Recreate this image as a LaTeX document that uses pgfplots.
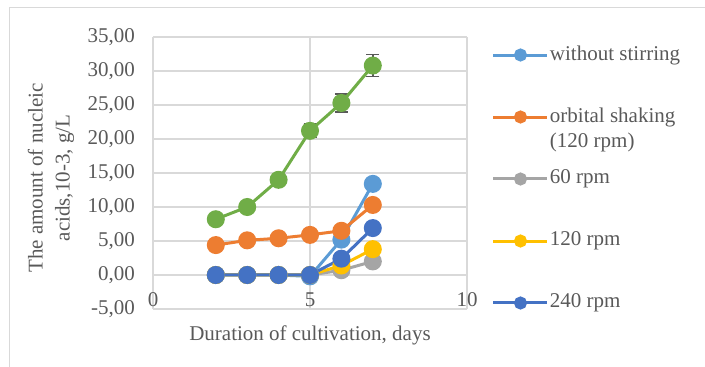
\documentclass[border=0pt]{standalone}
\usepackage{fontspec}
\setmainfont{Liberation Serif}
\usepackage{pgfplots}
\pgfplotsset{compat=1.18}
\definecolor{cLB}{HTML}{5B9BD5}
\definecolor{cOR}{HTML}{ED7D31}
\definecolor{cGR}{HTML}{A5A5A5}
\definecolor{cYE}{HTML}{FFC000}
\definecolor{cBL}{HTML}{4472C4}
\definecolor{cGN}{HTML}{70AD47}
\definecolor{cTX}{HTML}{595959}
\definecolor{cGRID}{HTML}{D9D9D9}
\definecolor{cERR}{HTML}{595959}
\pgfplotsset{
  mylegimg/.style={legend image code/.code={\draw[#1, mark=none, line width=3pt] (0pt,0pt) -- (54pt,0pt); \fill[#1] (27pt,0pt) circle (5pt);}}
}
\begin{document}
\begin{tikzpicture}
\path[use as bounding box] (0pt,0pt) rectangle (705pt,367pt);
\draw[cGRID, line width=1pt] (9pt,0pt) -- (9pt,359pt) -- (706pt,359pt);
\begin{axis}[
  at={(153pt,58pt)}, anchor=south west,
  scale only axis, width=314pt, height=272pt,
  xmin=0, xmax=10, ymin=-5, ymax=35,
  enlargelimits=false,
  axis line style={draw=none},
  major tick length=0pt,
  grid=major,
  grid style={cGRID, line width=1.2pt},
  xtick={0,5,10}, xticklabels={0,5,10},
  ytick={-5,0,5,10,15,20,25,30,35},
  yticklabels={{-5,00},{0,00},{5,00},{10,00},{15,00},{20,00},{25,00},{30,00},{35,00}},
  ticklabel style={font=\fontsize{21}{25}\selectfont, text=cTX},
  xticklabel style={anchor=base, inner sep=0pt, yshift=2pt},
  yticklabel style={anchor=east, inner sep=0pt, xshift=-18pt},
  xlabel={Duration of cultivation, days},
  xlabel style={font=\fontsize{21}{25}\selectfont, text=cTX, at={(axis description cs:0.5,0)}, anchor=base, inner sep=0pt, yshift=-32pt},
  ylabel={The amount of nucleic\\acids,10-3, g/L},
  ylabel style={font=\fontsize{21}{27}\selectfont, text=cTX, align=center, at={(axis description cs:-0.3248,0.4816)}, anchor=center},
  every axis plot/.append style={line width=3pt, mark=*, mark size=7.5pt},
  mylegimg,
  legend cell align=left,
  legend style={draw=none, fill=none, inner sep=0pt, outer sep=0pt,
    at={(axis description cs:1.0796,0.9706)}, anchor=north west,
    row sep=42pt, column sep=1pt,
    nodes={inner sep=0pt, text height=15pt, text depth=5pt, text=cTX, font=\fontsize{21}{25}\selectfont}},
]
\addplot[cLB, mark options={fill=cLB, draw=cLB}] coordinates {(2,0)(3,0)(4,0)(5,-0.2)(6,5.2)(7,13.4)};
\addlegendentry{without stirring}
\addplot[cOR, mark options={fill=cOR, draw=cOR}] coordinates {(2,4.4)(3,5.1)(4,5.4)(5,5.9)(6,6.5)(7,10.3)};
\addlegendentry{\begin{tabular}[t]{@{}l@{}}orbital shaking\\(120 rpm)\end{tabular}}
\addplot[cGR, mark options={fill=cGR, draw=cGR}] coordinates {(2,0)(3,0)(4,0)(5,0)(6,0.7)(7,2.0)};
\addlegendentry{60 rpm}
\addplot[cYE, mark options={fill=cYE, draw=cYE}] coordinates {(2,0)(3,0)(4,0)(5,0)(6,1.4)(7,3.8)};
\addlegendentry{120 rpm}
\addplot[cBL, mark options={fill=cBL, draw=cBL}] coordinates {(2,0)(3,0)(4,0)(5,0)(6,2.4)(7,6.9)};
\addlegendentry{240 rpm}
\addplot[forget plot, draw=none, mark=none, error bars/.cd, y dir=both, y explicit,
  error bar style={cERR, line width=1.5pt},
  error mark options={rotate=90, mark size=6.5pt, cERR, line width=1.5pt}]
  coordinates {(5,21.2) +- (0,1.0) (6,25.3) +- (0,1.3) (7,30.8) +- (0,1.6)};
\addplot[forget plot, cGN, mark options={fill=cGN, draw=cGN}] coordinates {(2,8.2)(3,10.0)(4,14.0)(5,21.2)(6,25.3)(7,30.8)};
\end{axis}
\end{tikzpicture}
\end{document}
